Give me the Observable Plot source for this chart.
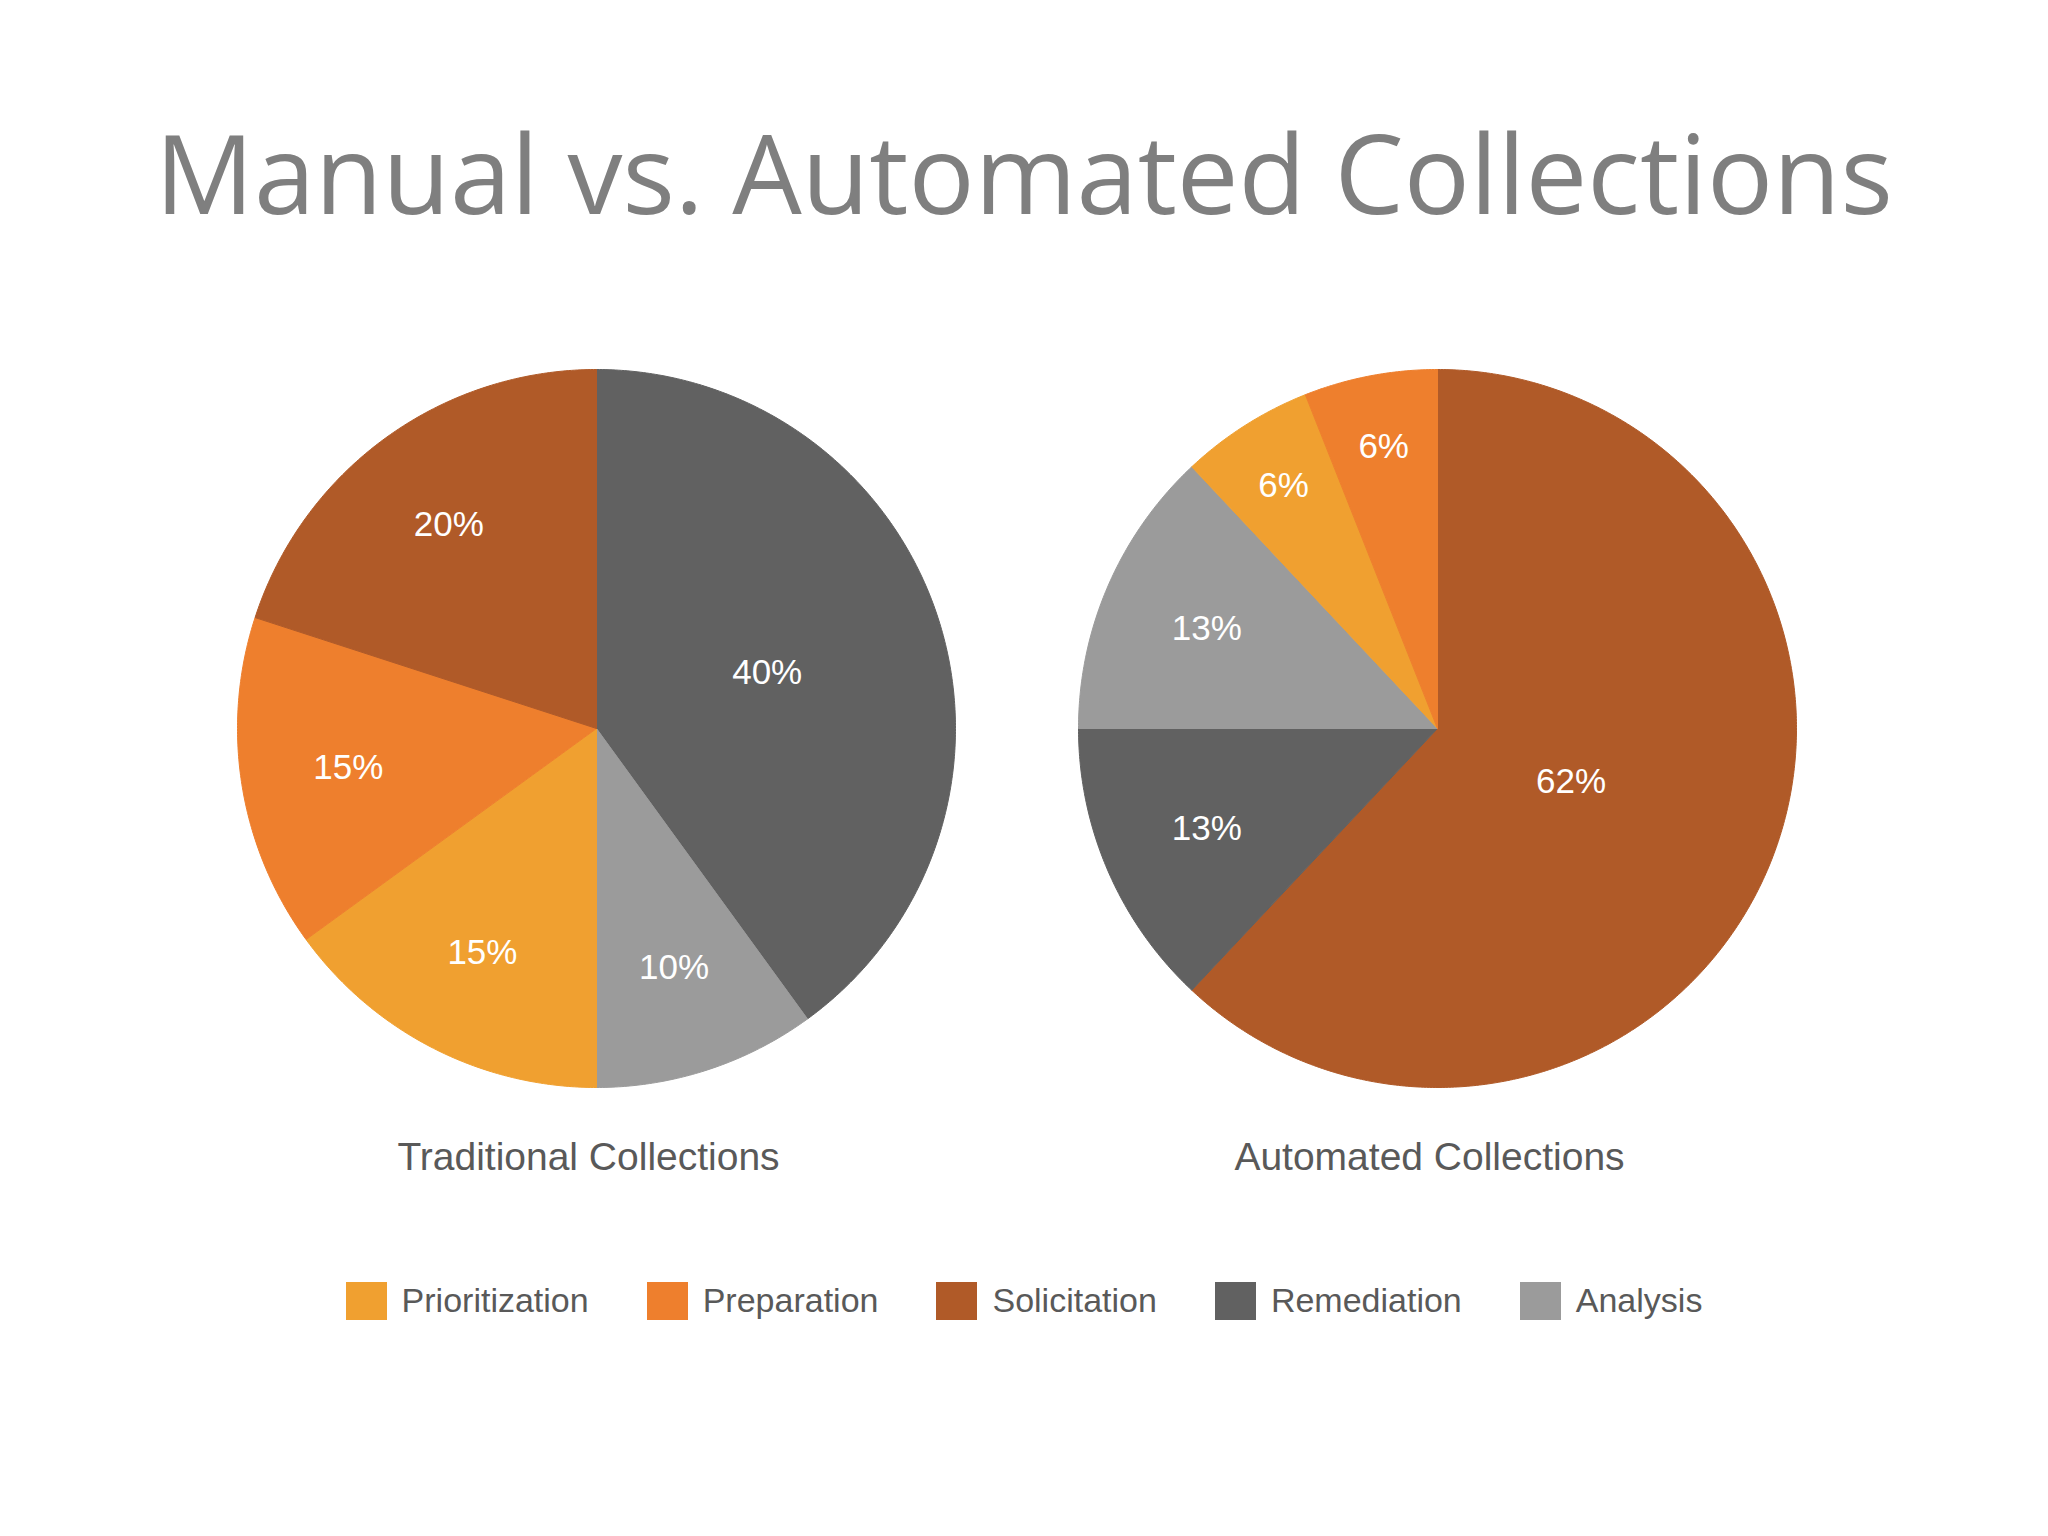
<!DOCTYPE html>
<html><head><meta charset="utf-8">
<script src="https://cdn.jsdelivr.net/npm/d3@7"></script>
<script src="https://cdn.jsdelivr.net/npm/@observablehq/plot@0.6"></script>
<style>
html,body{margin:0;padding:0;background:#fff;}
body{width:2048px;height:1536px;position:relative;overflow:hidden;}
#title{position:absolute;left:0;top:116px;width:2048px;text-align:center;font-family:"Open Sans",sans-serif;font-size:110px;line-height:110px;color:#7f7f7f;white-space:nowrap;}
#chart{position:absolute;left:0;top:349px;}
#legend{position:absolute;left:0;top:1281px;width:2048px;}
.lg-swatches{justify-content:center;}
.lg-swatch{margin:0 29px !important;}
.lg-swatch > svg{margin-right:15px !important;}
</style></head>
<body>
<div id="title">Manual vs. Automated Collections</div>
<div id="chart"></div>
<div id="legend"></div>
<script>
const categories = ["Prioritization", "Preparation", "Solicitation", "Remediation", "Analysis"];
const colors = ["#F0A030", "#EE7F2D", "#B05A28", "#616161", "#9B9B9B"];
const charts = ["Traditional Collections", "Automated Collections"];
const traditionalValues = [15, 15, 20, 40, 10];
const automatedValues = [6, 6, 62, 13, 13];
const firstSlice = ["Remediation", "Solicitation"];
const seriesValues = [traditionalValues, automatedValues];

const FONT = "Liberation Sans, Arial, Helvetica, sans-serif";

// Build slice polygons (unit circle, clockwise from 12 o'clock) and label anchors from the data
const slices = [];
const labels = [];
charts.forEach((chart, ci) => {
  const vals = seriesValues[ci];
  const total = d3.sum(vals);
  const start = categories.indexOf(firstSlice[ci]);
  let acc = 0;
  for (let k = 0; k < categories.length; k++) {
    const i = (start + k) % categories.length;
    const category = categories[i];
    const a0 = acc / total * 2 * Math.PI;
    acc += vals[i];
    const a1 = acc / total * 2 * Math.PI;
    const id = chart + "|" + category;
    slices.push({chart, category, id, x: 0, y: 0});
    const n = Math.max(2, Math.ceil((a1 - a0) / (Math.PI / 360)));
    for (let j = 0; j <= n; j++) {
      const a = a0 + (a1 - a0) * j / n;
      slices.push({chart, category, id, x: Math.sin(a), y: Math.cos(a)});
    }
    slices.push({chart, category, id, x: 0, y: 0});
    const share = vals[i] / total;
    const r = share > 0.5 ? 0.4 : share >= 0.35 ? 0.5 : share < 0.1 ? 0.8 : 0.7;
    const am = (a0 + a1) / 2;
    labels.push({chart, x: r * Math.sin(am), y: r * Math.cos(am), text: `${vals[i]}%`});
  }
});

const plot = Plot.plot({
  width: 2048,
  height: 848,
  marginTop: 20,
  marginBottom: 110,
  marginLeft: 237,
  marginRight: 252,
  x: {domain: [-1, 1], axis: null},
  y: {domain: [-1, 1], axis: null},
  fx: {domain: charts, paddingInner: 0.1463, paddingOuter: 0, label: null},
  color: {domain: categories, range: colors},
  style: {background: "transparent", overflow: "visible"},
  marks: [
    Plot.line(slices, {fx: "chart", x: "x", y: "y", z: "id", fill: "category", stroke: "category", strokeWidth: 1}),
    Plot.text(labels, {fx: "chart", x: "x", y: "y", text: "text", fill: "white", fontSize: 35, fontFamily: FONT}),
    Plot.axisFx({anchor: "bottom", tickSize: 0, tickPadding: 55, fontSize: 39, fontFamily: FONT, fill: "#595959", label: null, dx: -8})
  ]
});
document.getElementById("chart").appendChild(plot);

const legend = Plot.legend({
  color: {domain: categories, range: colors, legend: "swatches"},
  legend: "swatches",
  swatchWidth: 41,
  swatchHeight: 38,
  className: "lg",
  style: {fontSize: "34px", fontFamily: FONT, color: "#595959"}
});
document.getElementById("legend").appendChild(legend);
</script>
</body></html>
